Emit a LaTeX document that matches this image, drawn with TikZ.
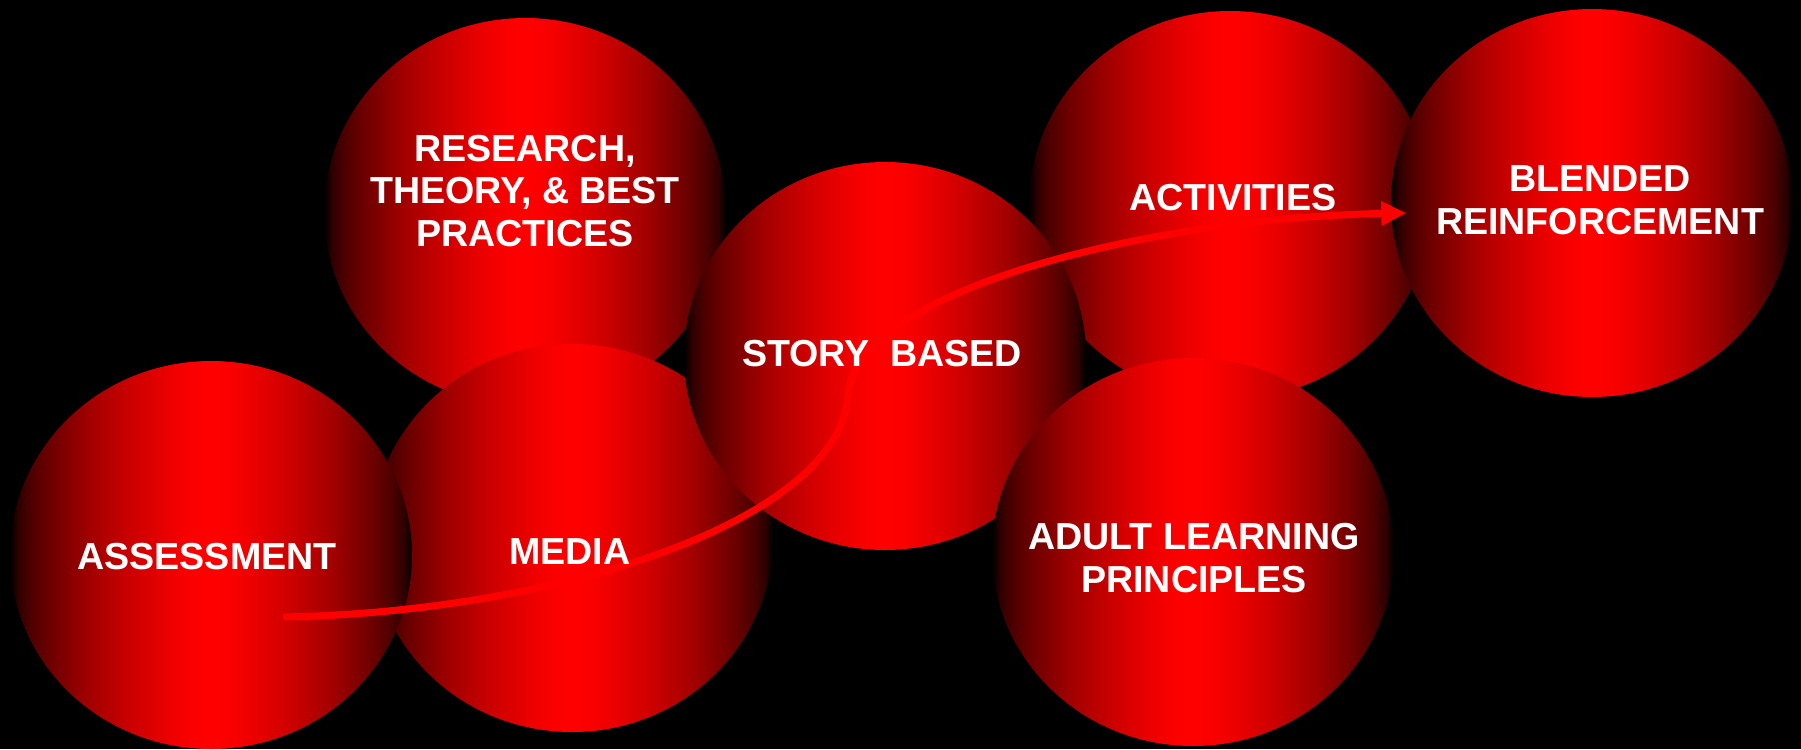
\documentclass[tikz,border=0pt]{standalone}
\usepackage{fontspec}
\setmainfont{Liberation Sans}
\usetikzlibrary{shapes.geometric,arrows.meta,calc}
\pgfdeclarehorizontalshading{redball}{100bp}{color(0bp)=(black); color(25bp)=(black);
  color(26bp)=(red!18!black); color(27.5bp)=(red!30!black); color(30bp)=(red!43!black);
  color(35bp)=(red!64!black); color(40bp)=(red!80!black); color(45bp)=(red!93!black);
  color(47.5bp)=(red!98!black); color(50bp)=(red); color(52.5bp)=(red!98!black);
  color(55bp)=(red!93!black); color(60bp)=(red!80!black);
  color(65bp)=(red!64!black); color(70bp)=(red!43!black); color(72.5bp)=(red!30!black);
  color(74bp)=(red!18!black); color(75bp)=(black); color(100bp)=(black)}
\tikzset{ball/.style={ellipse, shade, shading=redball, minimum width=40.2mm, minimum height=38.8mm, inner sep=0pt}}
\tikzset{lbl/.style={text=white, font=\bfseries\fontsize{10.7pt}{12.2pt}\selectfont, align=center}}
\tikzset{flow/.style={red, line width=0.7mm, -{Triangle[length=2.5mm,width=2.3mm]}}}

\begin{document}
\begin{tikzpicture}[x=0.1mm,y=-0.1mm]
\fill[black] (0,0) rectangle (1801,749);
\useasboundingbox (0,0) rectangle (1801,749);

\node[ball] (research) at (525,212) {};
\node[ball] (activities) at (1230,205) {};
\node[ball] (media) at (572,538) {};
\node[ball] (assess) at (211,555) {};
\node[ball] (story) at (885,356) {};
\node[ball] (blended) at (1592,203) {};
\node[ball] (adult) at (1193,552) {};

\coordinate (a0) at ($(assess.center)+(72,62)$);
\coordinate (a1) at ($(blended.west)+(16,10)$);
\draw[flow] (a0) .. controls (560,612) and (840,520) .. (848,395)
  .. controls (855,290) and (1150,218) .. (a1);

\node[lbl] (researchtxt) at (525,191) {RESEARCH,\\THEORY, \& BEST\\PRACTICES};
\node[lbl] (assesstxt) at (207,557) {ASSESSMENT};
\node[lbl] (mediatxt) at (570,552) {MEDIA};
\node[lbl] (storytxt) at (882,354) {STORY~~BASED};
\node[lbl] (activitiestxt) at (1233,198) {ACTIVITIES};
\node[lbl] (blendedtxt) at (1600,200) {BLENDED\\REINFORCEMENT};
\node[lbl] (adulttxt) at (1194,558) {ADULT LEARNING\\PRINCIPLES};

\end{tikzpicture}
\end{document}
